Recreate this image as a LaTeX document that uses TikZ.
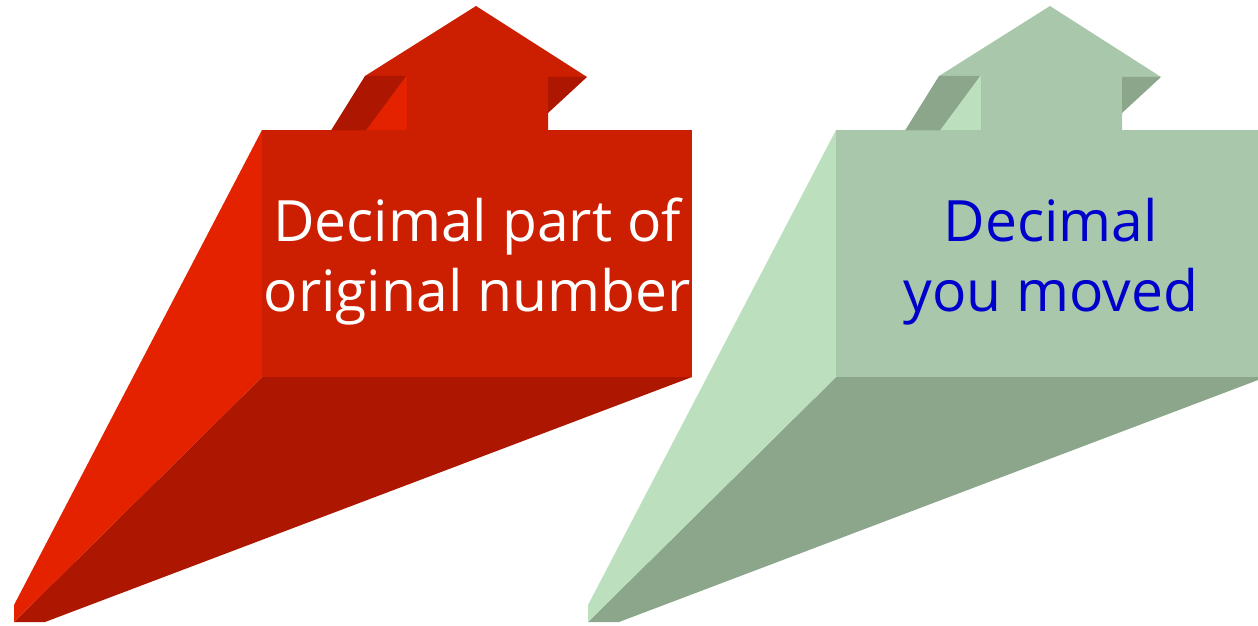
\documentclass[tikz,border=0pt]{standalone}
\usepackage{fontspec}
\setmainfont{Open Sans}
\definecolor{rfront}{RGB}{204,30,0}
\definecolor{rlight}{RGB}{229,34,0}
\definecolor{rdark}{RGB}{173,22,0}
\definecolor{gfront}{RGB}{169,200,171}
\definecolor{glight}{RGB}{188,224,190}
\definecolor{gdark}{RGB}{140,166,140}
\definecolor{tblue}{RGB}{0,0,204}
\newcommand{\calloutshape}[3]{%
  \fill[#3] (262,377) -- (692,377) -- (45,622) -- (14,622) -- cycle;
  \fill[#2] (262,130) -- (262,377) -- (14,622) -- (14,605) -- cycle;
  \fill[#1] (262,130) rectangle (692,377);
  \fill[#1] (365,76) -- (476,6) -- (587,77) -- (548,77) -- (548,131) -- (407,131) -- (407,76) -- cycle;
  \fill[#3] (365,76) -- (407,76) -- (407,130.5) -- (331,130.5) -- cycle;
  \fill[#2] (407,75) -- (407,130.5) -- (366,130.5) -- cycle;
  \fill[#3] (548,77) -- (587,77) -- (548,113) -- cycle;
}
\tikzset{calltext/.style={align=center,inner sep=0pt,font=\fontsize{28.5pt}{35pt}\selectfont}}
\begin{document}
\begin{tikzpicture}[x=0.5pt,y=-0.5pt]
\useasboundingbox (0,0) rectangle (1258,626);
\clip (0,0) rectangle (1258,626);
\begin{scope}
  \calloutshape{rfront}{rlight}{rdark}
  \node[calltext,text=white] (redtext) at (477,262) {Decimal part of\\original number};
\end{scope}
\begin{scope}[shift={(574,0)}]
  \calloutshape{gfront}{glight}{gdark}
  \node[calltext,text=tblue] (greentext) at (477,262) {Decimal\\you moved};
\end{scope}
\end{tikzpicture}
\end{document}
